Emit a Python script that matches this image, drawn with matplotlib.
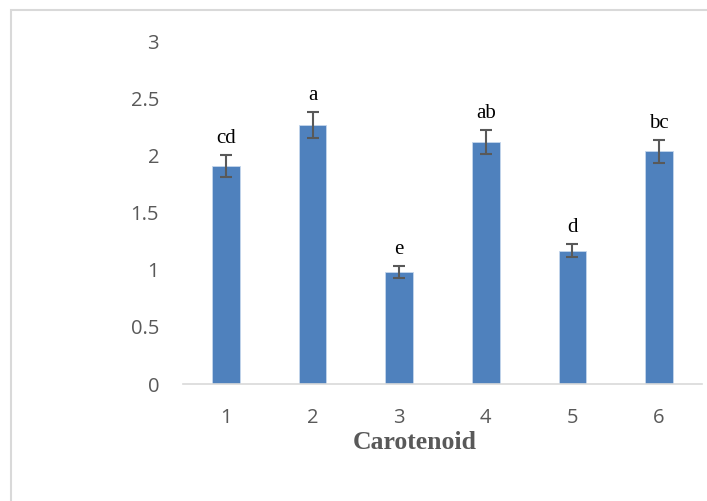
import matplotlib
matplotlib.use("Agg")
import matplotlib.pyplot as plt
from matplotlib.patches import Rectangle

categories = ["1", "2", "3", "4", "5", "6"]
values = [1.91, 2.27, 0.98, 2.12, 1.17, 2.04]
errors = [0.10, 0.115, 0.053, 0.105, 0.06, 0.10]
letters = ["cd", "a", "e", "ab", "d", "bc"]
yticks = [0, 0.5, 1, 1.5, 2, 2.5, 3]
ytick_labels = ["0", "0.5", "1", "1.5", "2", "2.5", "3"]

W, H = 707, 501
fig = plt.figure(figsize=(W / 100, H / 100), dpi=100)
ax = fig.add_axes([182.7 / W, (H - 384) / H, (702.4 - 182.7) / W, (384 - 41.7) / H])

gray = "#595959"
x = list(range(len(categories)))
ax.bar(x, values, width=0.32, color="#4F81BD", edgecolor="#c5d6ec", linewidth=0.6, zorder=2)
ax.errorbar(x, values, yerr=errors, fmt="none", ecolor=gray, elinewidth=1.5,
            capsize=4.2, capthick=1.5, zorder=3)

for xi, v, e, lab in zip(x, values, errors, letters):
    ax.annotate(lab, (xi, v + e), xytext=(0, 5), textcoords="offset points",
                ha="center", va="bottom", fontsize=15,
                family="Liberation Serif", color="black")

ax.set_xlim(-0.5, len(categories) - 0.5)
ax.set_ylim(0, 3)
ax.set_xticks(x)
ax.set_xticklabels(categories)
ax.set_yticks(yticks)
ax.set_yticklabels(ytick_labels)
for lbl in ax.get_xticklabels() + ax.get_yticklabels():
    lbl.set_family("Open Sans")
    lbl.set_fontsize(14.5)
    lbl.set_color(gray)
ax.tick_params(axis="both", length=0)
ax.tick_params(axis="y", pad=17)
ax.tick_params(axis="x", pad=17)

for s in ["top", "right", "left"]:
    ax.spines[s].set_visible(False)
ax.spines["bottom"].set_color("#d9d9d9")
ax.spines["bottom"].set_linewidth(1.2)

ax.set_xlabel("Carotenoid", family="Liberation Serif", fontweight="bold",
              fontsize=18.5, color=gray, labelpad=0)
ax.xaxis.set_label_coords(0.447, -0.17)
ax.xaxis.label.set_va("center")

fig.patches.append(Rectangle((10.5 / W, -0.1), 1.2, (H - 9.5) / H + 0.1,
                             transform=fig.transFigure, fill=False,
                             edgecolor="#d9d9d9", linewidth=1.5))

fig.savefig("out.png", dpi=100)
